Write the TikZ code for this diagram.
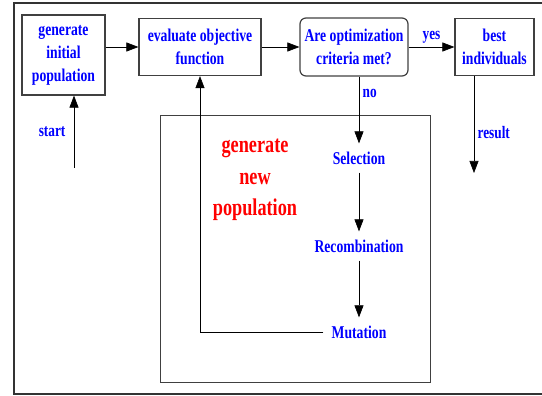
\documentclass[tikz,border=0pt]{standalone}
\usepackage{fontspec}
\setmainfont{Liberation Serif}[FakeStretch=0.76]
\usetikzlibrary{arrows.meta}

\begin{document}
\begin{tikzpicture}[x=1pt,y=1pt,-{Triangle[length=12pt,width=9pt]},semithick]
   \useasboundingbox (0,0) rectangle (542,-396);
   \tikzstyle{main}=[rectangle, draw=black!75, line width=1.2pt, align=center, text=blue, font=\bfseries\fontsize{18}{23}\selectfont, inner sep=2pt]
   \tikzstyle{stage}=[text=blue, font=\bfseries\fontsize{18}{22}\selectfont, inner sep=8pt]
   \tikzstyle{tag}=[text=blue, font=\bfseries\fontsize{17.5}{20}\selectfont]
   % frame and inner block
   \draw[-, draw=black!80, line width=1.3pt] (542,-3) -- (14,-3) -- (14,-394) -- (542,-394);
   \draw[-, draw=black!75, line width=1pt] (160.5,-116) rectangle (430,-382);
   % top row
   \node[main, minimum width=83pt, minimum height=80pt] (init) at (63.5,-55) {generate\\initial\\population};
   \node[main, minimum width=122pt, minimum height=57pt] (eval) at (200,-47) {evaluate objective\\function};
   \node[main, minimum width=108pt, minimum height=58pt, rounded corners=6pt] (crit) at (354,-47) {Are optimization\\criteria met?};
   \node[main, minimum width=79pt, minimum height=57pt] (best) at (494.5,-47) {best\\individuals};
   \node[text=red, align=center, font=\bfseries\fontsize{24}{31.5}\selectfont] (newpop) at (255,-180) {generate\\new\\population};
   % inner steps
   \node[stage] (sel) at (359,-158) {Selection};
   \node[stage] (rec) at (359,-246) {Recombination};
   \node[stage] (mut) at (359,-332) {Mutation};
   \coordinate (startpt) at (74,-168);
   \coordinate (resultpt) at (474,-173);
   \path (init.east |- eval.west) edge (eval.west);
   \path (eval) edge (crit);
   \path (crit) edge node[tag, above] {yes} (best);
   \path (startpt) edge node[tag, left=5pt] {start} (startpt |- init.south);
   \path (crit.south -| sel.north) edge node[tag, right, pos=0.25] {no} (sel.north);
   \path (sel) edge (rec);
   \path (rec) edge (mut);
   \draw (mut.west) -| (eval.south);
   \path (best.south -| resultpt) edge node[tag, right, pos=0.58] {result} (resultpt);
\end{tikzpicture}
\end{document}
